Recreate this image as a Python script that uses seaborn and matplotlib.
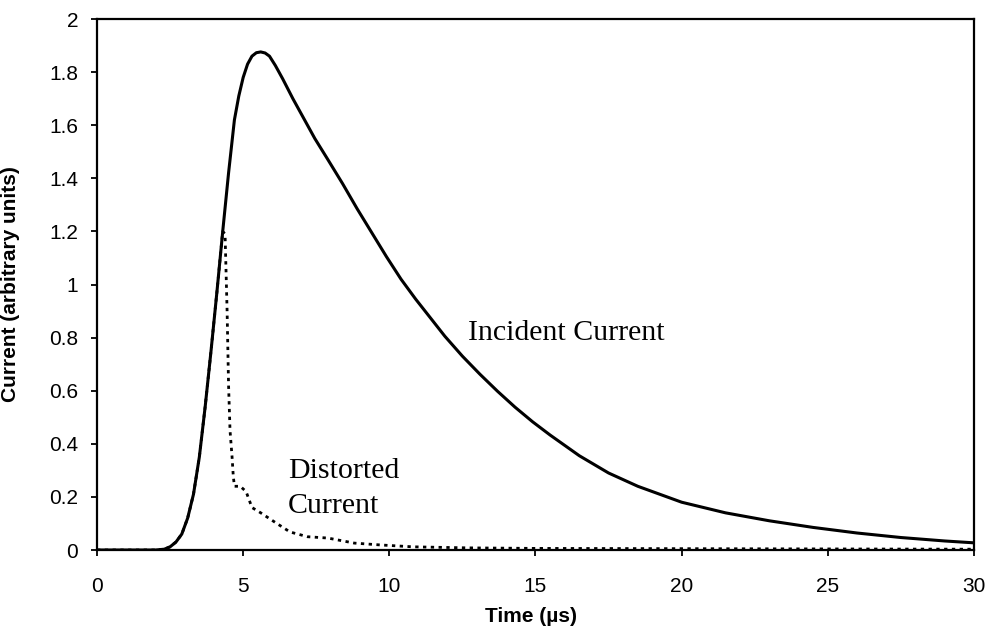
import matplotlib
matplotlib.use("Agg")
import matplotlib.pyplot as plt
import seaborn as sns
import pandas as pd

# Incident current waveform (time in microseconds, current in arbitrary units)
incident_t = [0, 2.0, 2.3, 2.5, 2.7, 2.9, 3.1, 3.3, 3.5, 3.7, 3.9, 4.1, 4.3, 4.5,
              4.7, 4.85, 5.0, 5.15, 5.3, 5.45, 5.6, 5.75, 5.9, 6.1, 6.35, 6.7,
              7.05, 7.45, 7.9, 8.4, 8.9, 9.4, 9.9, 10.4, 10.9, 11.4, 11.9, 12.5,
              13.1, 13.7, 14.3, 14.9, 15.5, 16.5, 17.5, 18.5, 20.0, 21.5, 23.0,
              24.5, 26.0, 27.5, 29.0, 30.0]
incident_i = [0, 0, 0.003, 0.012, 0.03, 0.06, 0.12, 0.21, 0.35, 0.54, 0.75, 0.97, 1.20, 1.42,
              1.62, 1.71, 1.78, 1.83, 1.86, 1.873, 1.876, 1.872, 1.86, 1.825, 1.775, 1.70,
              1.63, 1.55, 1.47, 1.38, 1.285, 1.195, 1.105, 1.02, 0.945, 0.875, 0.805, 0.73,
              0.662, 0.598, 0.538, 0.483, 0.433, 0.355, 0.29, 0.24, 0.18, 0.14, 0.11,
              0.085, 0.064, 0.047, 0.034, 0.027]

# Distorted current waveform
distorted_t = [0, 2.0, 2.3, 2.5, 2.7, 2.9, 3.1, 3.3, 3.5, 3.7, 3.9, 4.1, 4.3, 4.38,
               4.45, 4.5, 4.55, 4.62, 4.66, 4.7, 4.9, 5.1, 5.3, 5.6, 6.15, 6.6,
               7.2, 7.9, 8.8, 9.7, 10.8, 12.7, 15.0, 20.0, 25.0, 30.0]
distorted_i = [0, 0, 0.003, 0.012, 0.03, 0.06, 0.12, 0.21, 0.35, 0.54, 0.75, 0.97, 1.20, 1.19,
               0.90, 0.62, 0.45, 0.35, 0.28, 0.24, 0.24, 0.22, 0.16, 0.14, 0.10, 0.068,
               0.05, 0.045, 0.026, 0.019, 0.012, 0.008, 0.006, 0.005, 0.004, 0.003]

x_ticks = [0, 5, 10, 15, 20, 25, 30]
y_ticks = [0, 0.2, 0.4, 0.6, 0.8, 1.0, 1.2, 1.4, 1.6, 1.8, 2.0]
y_tick_labels = ["0", "0.2", "0.4", "0.6", "0.8", "1", "1.2", "1.4", "1.6", "1.8", "2"]

sns.set_theme(style="ticks")
plt.rcParams["font.family"] = ["Liberation Sans", "DejaVu Sans"]

fig = plt.figure(figsize=(9.86, 6.42), dpi=100)
ax = fig.add_axes([0.0984, 0.1433, 0.8894, 0.8271])

inc = pd.DataFrame({"t": incident_t, "i": incident_i})
dist = pd.DataFrame({"t": distorted_t, "i": distorted_i})

sns.lineplot(data=dist, x="t", y="i", ax=ax, color="black", linewidth=2.0,
             linestyle=(0, (1.2, 1.6)), sort=False)
sns.lineplot(data=inc, x="t", y="i", ax=ax, color="black", linewidth=2.2, sort=False)

ax.set_xlim(0, 30)
ax.set_ylim(0, 2)
ax.set_xticks(x_ticks)
ax.set_xticklabels([str(v) for v in x_ticks])
ax.set_yticks(y_ticks)
ax.set_yticklabels(y_tick_labels)

for s in ax.spines.values():
    s.set_visible(True)
    s.set_linewidth(1.6)
    s.set_color("black")

ax.tick_params(axis="both", direction="out", length=4.5, width=1.3, color="black",
               labelsize=15, labelcolor="black")
ax.tick_params(axis="x", pad=15)
ax.tick_params(axis="y", pad=9)

ax.set_xlabel("Time (\u00b5s)", fontsize=15, fontweight="bold", color="black")
ax.set_ylabel("Current (arbitrary units)", fontsize=15, fontweight="bold", color="black")
ax.xaxis.set_label_coords(0.495, -0.108)
ax.yaxis.set_label_coords(-0.088, 0.5)

serif = ["Liberation Serif", "DejaVu Serif"]
ax.text(12.69, 0.79, "Incident Current", family=serif, fontsize=21.5,
        color="black", ha="left", va="baseline")
ax.text(6.53, 0.271, "Distorted", family=serif, fontsize=21.5,
        color="black", ha="left", va="baseline")
ax.text(6.53, 0.139, "Current", family=serif, fontsize=21.5,
        color="black", ha="left", va="baseline")

fig.savefig("out.png", dpi=100, facecolor="white")
